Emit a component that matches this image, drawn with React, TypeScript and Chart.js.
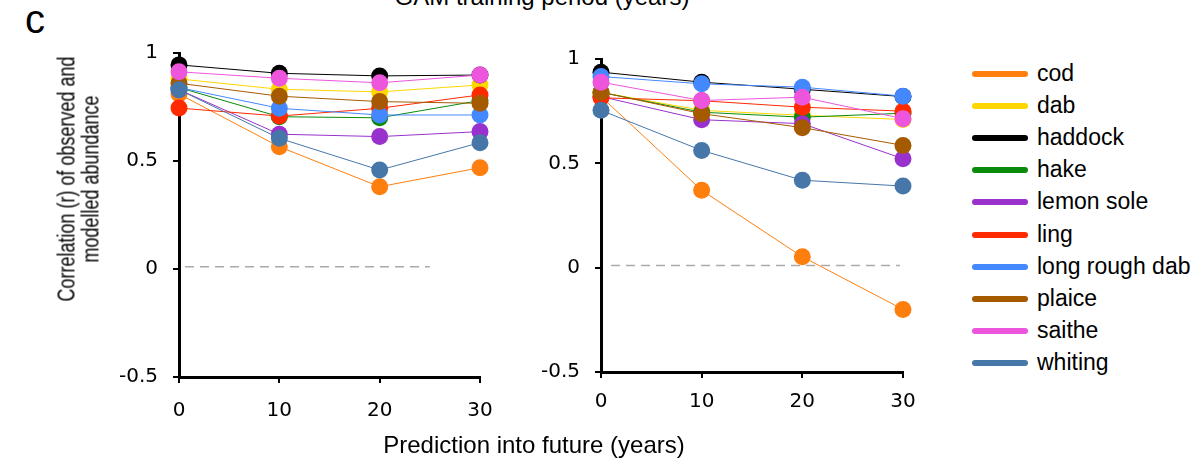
import React, { useEffect, useRef } from "react";
import { Chart, registerables } from "chart.js";

Chart.register(...registerables);

const FONT = "'Liberation Sans', Arial, sans-serif";
const TICK_FONT = "'DejaVu Sans', 'Liberation Sans', Arial, sans-serif";

// Categories
const horizons = [0, 10, 20, 30];
const species = ["cod", "dab", "haddock", "hake", "lemon sole", "ling", "long rough dab", "plaice", "saithe", "whiting"];
const speciesColors = ["#FF7F0E", "#FFD700", "#000000", "#0A8A0A", "#9932CC", "#FF2A00", "#4488FF", "#A65A00", "#EE55DD", "#4677A8"];

// Tick values
const yTicks = [-0.5, 0, 0.5, 1];
const xTicks = [0, 10, 20, 30];

// Left panel values (one array per species, same order as `species`)
const leftCod = [0.81, 0.566, 0.381, 0.469];
const leftDab = [0.88, 0.832, 0.82, 0.852];
const leftHaddock = [0.945, 0.906, 0.894, 0.898];
const leftHake = [0.84, 0.705, 0.7, 0.78];
const leftLemonSole = [0.83, 0.624, 0.613, 0.636];
const leftLing = [0.745, 0.708, 0.744, 0.806];
const leftLongRoughDab = [0.84, 0.744, 0.713, 0.713];
const leftPlaice = [0.86, 0.8, 0.775, 0.767];
const leftSaithe = [0.913, 0.883, 0.862, 0.898];
const leftWhiting = [0.83, 0.605, 0.458, 0.585];

// Right panel values
const rightCod = [0.82, 0.371, 0.052, -0.2];
const rightDab = [0.84, 0.754, 0.73, 0.71];
const rightHaddock = [0.937, 0.889, 0.855, 0.82];
const rightHake = [0.84, 0.745, 0.721, 0.74];
const rightLemonSole = [0.82, 0.709, 0.69, 0.522];
const rightLing = [0.814, 0.8, 0.769, 0.75];
const rightLongRoughDab = [0.916, 0.881, 0.865, 0.822];
const rightPlaice = [0.841, 0.738, 0.671, 0.586];
const rightSaithe = [0.889, 0.801, 0.817, 0.714];
const rightWhiting = [0.754, 0.562, 0.419, 0.391];

const leftSeries = [leftCod, leftDab, leftHaddock, leftHake, leftLemonSole, leftLing, leftLongRoughDab, leftPlaice, leftSaithe, leftWhiting];
const rightSeries = [rightCod, rightDab, rightHaddock, rightHake, rightLemonSole, rightLing, rightLongRoughDab, rightPlaice, rightSaithe, rightWhiting];

// Zero reference line extents (x range, y value)
const leftZeroLineX = [0.6, 25];
const rightZeroLineX = [1, 29.7];
const zeroLineY = 0.01;

type PanelLayout = {
  canvasLeft: number;
  canvasWidth: number;
  padTop: number;
  padRight: number;
  yWidth: number;
  xHeight: number;
  xLabelPad: number;
};

function buildConfig(series: number[][], zeroX: number[], lay: PanelLayout): any {
  const datasets: any[] = series.map((vals, i) => ({
    label: species[i],
    data: vals.map((v, j) => ({ x: horizons[j], y: v })),
    borderColor: speciesColors[i],
    backgroundColor: speciesColors[i],
    borderWidth: 1,
    pointRadius: 8.5,
    pointBorderWidth: 0,
    pointHoverRadius: 8.5,
    tension: 0,
    order: series.length - i,
  }));
  datasets.push({
    label: "zero",
    data: zeroX.map((x) => ({ x, y: zeroLineY })),
    borderColor: "#AAAAAA",
    borderWidth: 1.5,
    borderDash: [9, 6],
    pointRadius: 0,
    order: 100,
  });
  return {
    type: "line",
    data: { datasets },
    options: {
      animation: false,
      responsive: false,
      maintainAspectRatio: false,
      layout: { padding: { top: lay.padTop, right: lay.padRight, left: 0, bottom: 0 } },
      plugins: { legend: { display: false }, tooltip: { enabled: false } },
      clip: false,
      scales: {
        x: {
          type: "linear",
          min: 0,
          max: 30,
          afterFit: (s: any) => {
            s.height = lay.xHeight;
          },
          afterBuildTicks: (s: any) => {
            s.ticks = xTicks.map((v) => ({ value: v }));
          },
          ticks: {
            color: "#000",
            font: { family: TICK_FONT, size: 20 },
            padding: lay.xLabelPad,
            maxRotation: 0,
            callback: (v: any) => String(v),
          },
          grid: { display: true, drawOnChartArea: false, drawTicks: true, tickLength: 6, color: "#000", lineWidth: 2 },
          border: { display: true, color: "#000", width: 3 },
        },
        y: {
          type: "linear",
          min: -0.5,
          max: 1,
          afterFit: (s: any) => {
            s.width = lay.yWidth;
          },
          afterBuildTicks: (s: any) => {
            s.ticks = yTicks.map((v) => ({ value: v }));
          },
          ticks: {
            color: "#000",
            font: { family: TICK_FONT, size: 20 },
            padding: 15,
            callback: (v: any) => String(Math.round(Number(v) * 10) / 10),
          },
          grid: { display: true, drawOnChartArea: false, drawTicks: true, tickLength: 6, color: "#000", lineWidth: 2 },
          border: { display: true, color: "#000", width: 3 },
        },
      },
    },
  };
}

const leftLayout: PanelLayout = { canvasLeft: 0, canvasWidth: 520, padTop: 53, padRight: 40, yWidth: 179, xHeight: 84, xLabelPad: 16 };
const rightLayout: PanelLayout = { canvasLeft: 520, canvasWidth: 440, padTop: 59, padRight: 57, yWidth: 81, xHeight: 89, xLabelPad: 12 };

function Panel({ series, zeroX, lay }: { series: number[][]; zeroX: number[]; lay: PanelLayout }) {
  const ref = useRef<HTMLCanvasElement | null>(null);
  useEffect(() => {
    if (!ref.current) return;
    const chart = new Chart(ref.current, buildConfig(series, zeroX, lay));
    return () => chart.destroy();
  }, []);
  return (
    <canvas
      ref={ref}
      width={lay.canvasWidth}
      height={461}
      style={{ position: "absolute", left: lay.canvasLeft, top: 0, width: lay.canvasWidth, height: 461 }}
    />
  );
}

export default function App() {
  const text: React.CSSProperties = { position: "absolute", fontFamily: FONT, color: "#000", whiteSpace: "nowrap" };
  return (
    <div style={{ position: "fixed", left: 0, top: 0, width: 1200, height: 461, background: "#fff", overflow: "hidden" }}>
      <div style={{ ...text, left: 542, top: -17, fontSize: 24, transform: "translateX(-50%)" }}>GAM training period (years)</div>
      <div style={{ ...text, left: 25, top: -1, fontSize: 40, lineHeight: "40px" }}>c</div>
      <Panel series={leftSeries} zeroX={leftZeroLineX} lay={leftLayout} />
      <Panel series={rightSeries} zeroX={rightZeroLineX} lay={rightLayout} />
      <div
        style={{
          ...text,
          left: 78,
          top: 179,
          fontSize: 18,
          lineHeight: "16.5px",
          textAlign: "center",
          transform: "translate(-50%, -50%) rotate(-90deg) scaleY(1.38)",
        }}
      >
        Correlation (r) of observed and
        <br />
        modelled abundance
      </div>
      <div style={{ ...text, left: 534, top: 431, fontSize: 24, transform: "translateX(-50%)" }}>Prediction into future (years)</div>
      {species.map((s, i) => (
        <React.Fragment key={s}>
          <div
            style={{
              position: "absolute",
              left: 972,
              top: 74 + i * 32.1 - 3,
              width: 56,
              height: 6,
              borderRadius: 3,
              background: speciesColors[i],
            }}
          />
          <div style={{ ...text, left: 1037, top: 74 + i * 32.1 - 14, fontSize: 23, lineHeight: "27px" }}>{s}</div>
        </React.Fragment>
      ))}
    </div>
  );
}
